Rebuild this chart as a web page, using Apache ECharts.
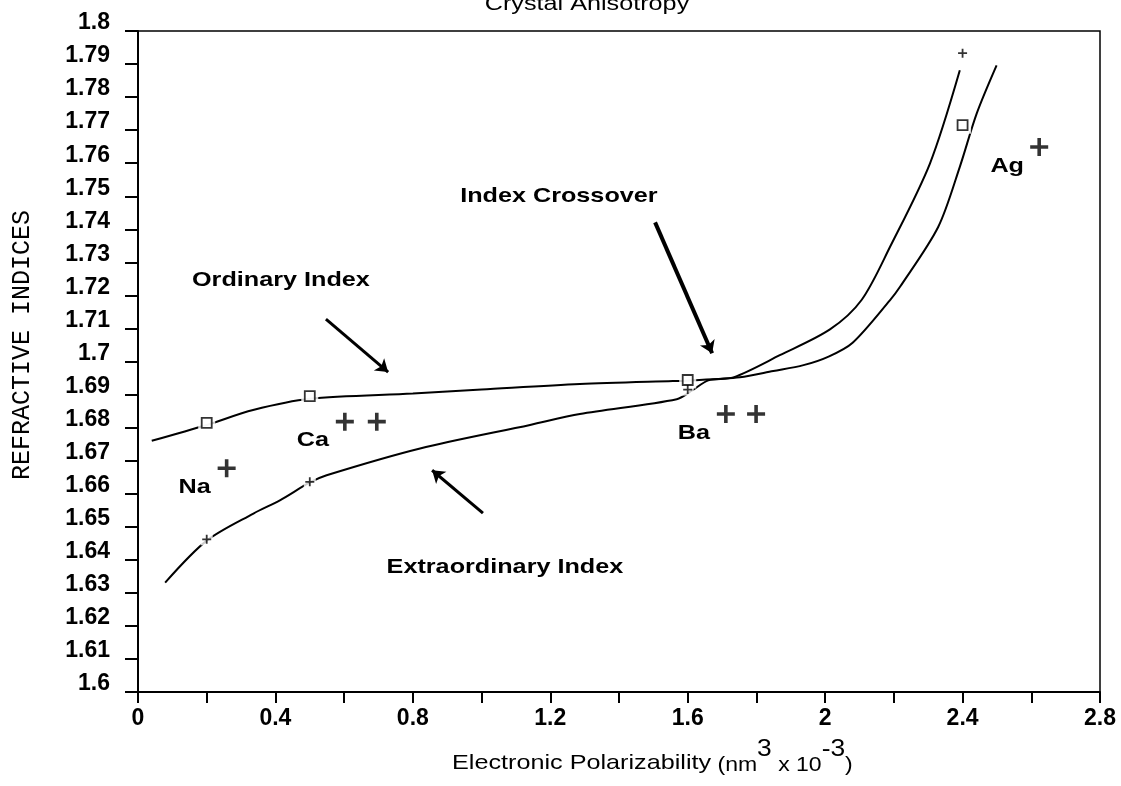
<!DOCTYPE html>
<html><head><meta charset="utf-8">
<script src="https://cdn.jsdelivr.net/npm/echarts@6/dist/echarts.min.js"></script>
<style>html,body{margin:0;padding:0;background:#fff}#c{width:1121px;height:786px}</style>
</head><body><div id="c"></div>
<script>
// ---- data ----
const ordinaryLineX = [0.04, 0.2, 0.335, 0.5, 0.8, 1.0, 1.286, 1.557, 1.6, 1.752, 1.849, 1.937, 2.01, 2.08, 2.189, 2.218, 2.329, 2.392, 2.441, 2.499];
const ordinaryLineY = [1.676, 1.6808, 1.6853, 1.6887, 1.6903, 1.6915, 1.6932, 1.6941, 1.6942, 1.6952, 1.6971, 1.6989, 1.7015, 1.7057, 1.7186, 1.7226, 1.7407, 1.7589, 1.775, 1.7896];
const extraLineX = [0.079, 0.2, 0.336, 0.413, 0.5, 0.549, 0.821, 1.141, 1.286, 1.568, 1.614, 1.66, 1.733, 1.868, 2.014, 2.106, 2.189, 2.305, 2.392];
const extraLineY = [1.6331, 1.6458, 1.654, 1.658, 1.6634, 1.6656, 1.6737, 1.6808, 1.6841, 1.6886, 1.6913, 1.6943, 1.6952, 1.7019, 1.7097, 1.7186, 1.7347, 1.7599, 1.7881];
const ordinaryMarkX = [0.2, 0.5, 1.6, 2.4];
const ordinaryMarkY = [1.6814, 1.6895, 1.6944, 1.7715];
const extraMarkX = [0.2, 0.5, 1.6, 2.4];
const extraMarkY = [1.6462, 1.6636, 1.6915, 1.7933];
const elementX = [0.258, 0.602, 0.695, 1.711, 1.799, 2.623];
const elementY = [1.6677, 1.6818, 1.6818, 1.6841, 1.6841, 1.7649];
const elementLabels = ['Na', 'Ca', '', 'Ba', '', 'Ag'];
const annotationTexts = ['Index Crossover', 'Ordinary Index', 'Extraordinary Index'];
const annotationX = [1.225, 0.416, 1.068];
const annotationY = [1.75, 1.7246, 1.6378];
const arrowFromX = [1.505, 0.547, 1.004];
const arrowFromY = [1.7421, 1.7128, 1.6541];
const arrowToX = [1.671, 0.728, 0.856];
const arrowToY = [1.7025, 1.6968, 1.6671];
const titleText = 'Crystal Anisotropy';
const yTitle = 'REFRACTIVE INDICES';
const xTitleParts = ['Electronic Polarizability', ' (nm', '3', ' x 10', '-3', ')'];

const zip = (a, b) => a.map((v, i) => [v, b[i]]);
const PLUS = 'path://M4,0H6V4H10V6H6V10H4V6H0V4H4Z';
const SANS = '"Liberation Sans", Arial, Helvetica, sans-serif';
const MONO = '"Liberation Mono", "Courier New", monospace';

const chart = echarts.init(document.getElementById('c'));
chart.setOption({
  animation: false,
  backgroundColor: '#fff',
  grid: { left: 138, right: 21, top: 31, bottom: 94, show: true, borderColor: '#000', borderWidth: 1.5, backgroundColor: 'transparent' },
  xAxis: {
    type: 'value', min: 0, max: 2.8, interval: 0.4,
    axisLine: { lineStyle: { color: '#000', width: 2 } },
    axisTick: { length: 11, lineStyle: { color: '#000', width: 2 } },
    minorTick: { show: true, splitNumber: 2, length: 11, lineStyle: { color: '#000', width: 2 } },
    splitLine: { show: false },
    axisLabel: { margin: 15, fontSize: 23, fontWeight: 'bold', color: '#000', fontFamily: SANS,
      formatter: v => String(+v.toFixed(2)) }
  },
  yAxis: {
    type: 'value', min: 1.6, max: 1.8, interval: 0.01,
    axisLine: { lineStyle: { color: '#000', width: 2 } },
    axisTick: { length: 13, lineStyle: { color: '#000', width: 2 } },
    splitLine: { show: false },
    axisLabel: { margin: 28, fontSize: 23, fontWeight: 'bold', color: '#000', fontFamily: SANS,
      verticalAlign: 'bottom', lineHeight: 16, formatter: v => String(+v.toFixed(2)) }
  },
  series: [
    { type: 'line', data: zip(ordinaryLineX, ordinaryLineY), smooth: 0.3, showSymbol: false, z: 2,
      lineStyle: { color: '#000', width: 2 } },
    { type: 'line', data: zip(extraLineX, extraLineY), smooth: 0.3, showSymbol: false, z: 2,
      lineStyle: { color: '#000', width: 2 } },
    { type: 'scatter', data: zip(ordinaryMarkX, ordinaryMarkY), symbol: 'rect', symbolSize: 17, z: 3,
      itemStyle: { color: '#fff' } },
    { type: 'scatter', data: zip(extraMarkX, extraMarkY), symbol: 'rect', symbolSize: 12, z: 3,
      itemStyle: { color: '#fff' } },
    { type: 'scatter', data: zip(ordinaryMarkX, ordinaryMarkY), symbol: 'rect', symbolSize: 10, z: 4,
      itemStyle: { color: '#fff', borderColor: '#000', borderWidth: 1.8 } },
    { type: 'scatter', data: zip(extraMarkX, extraMarkY), symbol: PLUS, symbolSize: 9, z: 4,
      itemStyle: { color: '#000' } },
    { type: 'scatter', data: zip(elementX, elementY), symbol: PLUS, symbolSize: 18, z: 4,
      itemStyle: { color: '#000' },
      markLine: {
        silent: true, symbol: ['none', 'arrow'], symbolSize: 12, label: { show: false },
        lineStyle: { color: '#000', width: 3, type: 'solid' },
        data: arrowFromX.map((x, i) => [
          { coord: [x, arrowFromY[i]], lineStyle: { width: i === 0 ? 4 : 3 } },
          { coord: [arrowToX[i], arrowToY[i]] }
        ])
      } }
  ]
});

const txt = (t, x, y, font, sx, align) => ({ type: 'text', x, y, scaleX: sx, z: 10,
  style: { text: t, fill: '#000', font, textAlign: align || 'center', textVerticalAlign: 'middle' } });

const graphics = annotationTexts.map((t, i) => {
  const p = chart.convertToPixel({ gridIndex: 0 }, [annotationX[i], annotationY[i]]);
  return txt(t, p[0], p[1], 'bold 21px ' + SANS, 1.2);
});
elementLabels.forEach((t, i) => {
  if (!t) return;
  const p = chart.convertToPixel({ gridIndex: 0 }, [elementX[i], elementY[i]]);
  graphics.push(txt(t, p[0] - 32, p[1] + 19, 'bold 21px ' + SANS, 1.2));
});
graphics.push(txt(titleText, 587, 4, '21px ' + SANS, 1.2));
graphics.push(Object.assign(txt(yTitle, 22, 345, '25px ' + MONO, 1), { rotation: Math.PI / 2 }));

// x-axis title pieces laid out one after another
const ctx = document.createElement('canvas').getContext('2d');
const partStyle = [
  { size: 21, sx: 1.2, dy: 0 },
  { size: 20, sx: 1.15, dy: 2 },
  { size: 24, sx: 1.1, dy: -14 },
  { size: 20, sx: 1.15, dy: 2 },
  { size: 24, sx: 1.1, dy: -14 },
  { size: 20, sx: 1.15, dy: 2 }
];
let cx = 452;
xTitleParts.forEach((t, i) => {
  const s = partStyle[i];
  const font = s.size + 'px ' + SANS;
  ctx.font = font;
  graphics.push(txt(t, cx, 763 + s.dy, font, s.sx, 'left'));
  cx += ctx.measureText(t).width * s.sx;
});
chart.setOption({ graphic: graphics });
</script></body></html>
